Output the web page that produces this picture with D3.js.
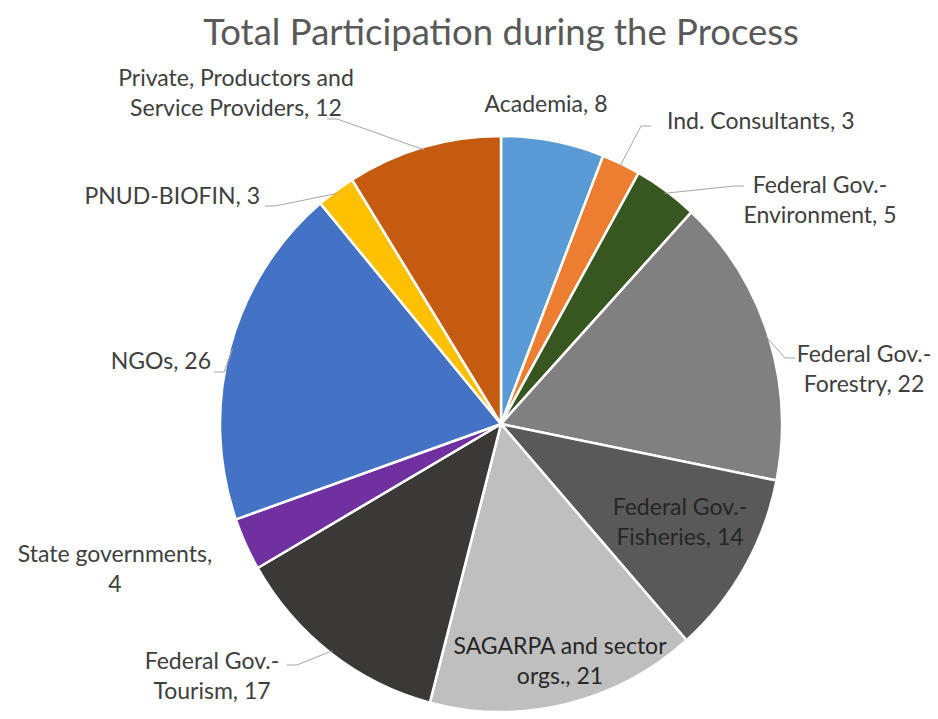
<!DOCTYPE html>
<html>
<head>
<meta charset="utf-8">
<script src="https://cdn.jsdelivr.net/npm/d3@7"></script>
<style>
  body { margin: 0; background: #fff; }
  svg { display: block; font-family: Lato, "Open Sans", sans-serif; }
</style>
</head>
<body>
<svg id="chart" width="938" height="719"></svg>
<script>
const categories = [
  "Academia", "Ind. Consultants", "Federal Gov.-Environment", "Federal Gov.-Forestry",
  "Federal Gov.-Fisheries", "SAGARPA and sector orgs.", "Federal Gov.-Tourism",
  "State governments", "NGOs", "PNUD-BIOFIN", "Private, Productors and Service Providers"
];
const values = [8, 3, 5, 22, 14, 21, 17, 4, 26, 3, 12];
const colors = ["#5b9bd5", "#ed7d31", "#38561f", "#808080", "#595959", "#bfbfbf",
  "#3b3838", "#7030a0", "#4472c4", "#ffc000", "#c55a11"];
const labelLines = [
  ["Academia, 8"],
  ["Ind. Consultants, 3"],
  ["Federal Gov.-", "Environment, 5"],
  ["Federal Gov.-", "Forestry, 22"],
  ["Federal Gov.-", "Fisheries, 14"],
  ["SAGARPA and sector", "orgs., 21"],
  ["Federal Gov.-", "Tourism, 17"],
  ["State governments,", "4"],
  ["NGOs, 26"],
  ["PNUD-BIOFIN, 3"],
  ["Private, Productors and", "Service Providers, 12"]
];

// label layout: x, first baseline y, anchor, inside slice?, leader start (x, y) or null
const labelLayout = [
  {x: 546, y: 112, anchor: "middle", inside: false, leader: null},
  {x: 667, y: 129, anchor: "start", inside: false, leader: [651, 126]},
  {x: 820, y: 193, anchor: "middle", inside: false, leader: [744, 186]},
  {x: 864, y: 362, anchor: "middle", inside: false, leader: [795, 358]},
  {x: 680, y: 515, anchor: "middle", inside: true, leader: null},
  {x: 560, y: 654, anchor: "middle", inside: true, leader: null},
  {x: 212, y: 669, anchor: "middle", inside: false, leader: [287, 665]},
  {x: 115, y: 562, anchor: "middle", inside: false, leader: null},
  {x: 211, y: 369, anchor: "end", inside: false, leader: [214, 372]},
  {x: 260, y: 204, anchor: "end", inside: false, leader: [265, 206]},
  {x: 236, y: 86, anchor: "middle", inside: false, leader: [327, 119]}
];

const svg = d3.select("#chart");
const cx = 501, cy = 424, r = 281, yStretch = 1.025;

svg.append("text")
  .attr("x", 501).attr("y", 45)
  .attr("text-anchor", "middle")
  .attr("font-size", 36.5)
  .attr("fill", "#595959")
  .text("Total Participation during the Process");

const pie = d3.pie().sort(null).value(d => d);
const arcs = pie(values);
const arc = d3.arc().innerRadius(0).outerRadius(r);

const g = svg.append("g")
  .attr("transform", `translate(${cx},${cy}) scale(1,${yStretch})`);

g.selectAll("path")
  .data(arcs)
  .enter()
  .append("path")
  .attr("d", arc)
  .attr("fill", (d, i) => colors[i])
  .attr("stroke", "#fff")
  .attr("stroke-width", 2.5)
  .attr("stroke-linejoin", "round");

// leader lines from label to slice edge
function edgePoint(d) {
  const a = (d.startAngle + d.endAngle) / 2;
  return [cx + Math.sin(a) * r * 0.99, cy - Math.cos(a) * r * yStretch * 0.99];
}

arcs.forEach((d, i) => {
  const lay = labelLayout[i];
  if (!lay.leader) return;
  const p = edgePoint(d);
  const [lx, ly] = lay.leader;
  const dir = p[0] > lx ? 1 : -1;
  svg.append("path")
    .attr("d", d3.line()([[lx, ly], [lx + dir * 10, ly], p]))
    .attr("fill", "none")
    .attr("stroke", "#a6a6a6")
    .attr("stroke-width", 1);
});

const labels = svg.append("g").attr("font-size", 23);

labelLines.forEach((lines, i) => {
  const lay = labelLayout[i];
  const t = labels.append("text")
    .attr("x", lay.x).attr("y", lay.y)
    .attr("text-anchor", lay.anchor)
    .attr("fill", lay.inside ? "#262626" : "#404040");
  lines.forEach((ln, j) => {
    t.append("tspan")
      .attr("x", lay.x)
      .attr("dy", j === 0 ? 0 : 30)
      .text(ln);
  });
});
</script>
</body>
</html>
